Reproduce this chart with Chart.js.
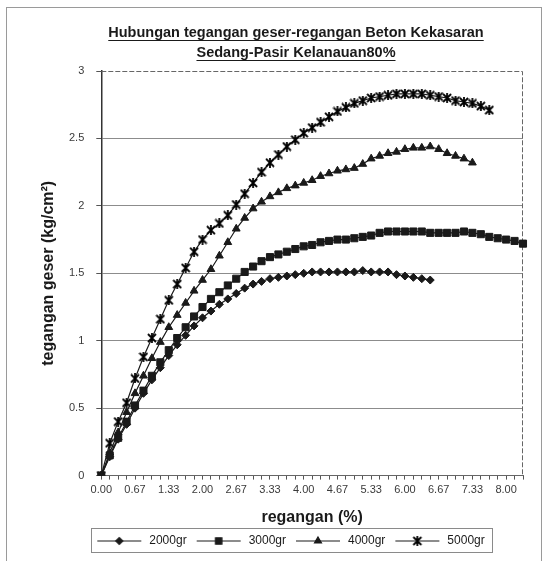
<!DOCTYPE html>
<html>
<head>
<meta charset="utf-8">
<title>Hubungan tegangan geser-regangan</title>
<script src="https://cdn.jsdelivr.net/npm/chart.js@4.4.1/dist/chart.umd.min.js"></script>
<style>
    html, body { margin: 0; padding: 0; background: #ffffff; }
    canvas { display: block; }
</style>
</head>
<body>
<canvas id="shear-chart" width="546" height="561"></canvas>
<script>
/**
 * Chart data: strain categories (%) and shear stress per load (kg/cm2)
 */
const strain = [
    '0.00', '0.17', '0.33', '0.50', '0.67', '0.83', '1.00', '1.17', '1.33', '1.50',
    '1.67', '1.83', '2.00', '2.17', '2.33', '2.50', '2.67', '2.83', '3.00', '3.17',
    '3.33', '3.50', '3.67', '3.83', '4.00', '4.17', '4.33', '4.50', '4.67', '4.83',
    '5.00', '5.17', '5.33', '5.50', '5.67', '5.83', '6.00', '6.17', '6.33', '6.50',
    '6.67', '6.83', '7.00', '7.17', '7.33', '7.50', '7.67', '7.83', '8.00', '8.17',
    '8.33'
];

const series_names = ['2000gr', '3000gr', '4000gr', '5000gr'];

const stress_2000 = [
    0, 0.14, 0.27, 0.38, 0.50, 0.61, 0.71, 0.80, 0.89, 0.97,
    1.04, 1.11, 1.17, 1.22, 1.27, 1.31, 1.35, 1.39, 1.42, 1.44,
    1.46, 1.47, 1.48, 1.49, 1.50, 1.51, 1.51, 1.51, 1.51, 1.51,
    1.51, 1.52, 1.51, 1.51, 1.51, 1.49, 1.48, 1.47, 1.46, 1.45
];

const stress_3000 = [
    0, 0.15, 0.28, 0.40, 0.52, 0.63, 0.74, 0.84, 0.93, 1.02,
    1.10, 1.18, 1.25, 1.31, 1.36, 1.41, 1.46, 1.51, 1.55, 1.59,
    1.62, 1.64, 1.66, 1.68, 1.70, 1.71, 1.73, 1.74, 1.75, 1.75,
    1.76, 1.77, 1.78, 1.80, 1.81, 1.81, 1.81, 1.81, 1.81, 1.80,
    1.80, 1.80, 1.80, 1.81, 1.80, 1.79, 1.77, 1.76, 1.75, 1.74,
    1.72
];

const stress_4000 = [
    0, 0.17, 0.32, 0.47, 0.61, 0.74, 0.87, 0.99, 1.10, 1.19,
    1.28, 1.37, 1.45, 1.53, 1.63, 1.73, 1.83, 1.91, 1.98, 2.03,
    2.07, 2.10, 2.13, 2.15, 2.17, 2.19, 2.22, 2.24, 2.26, 2.27,
    2.28, 2.31, 2.35, 2.37, 2.39, 2.40, 2.42, 2.43, 2.43, 2.44,
    2.42, 2.39, 2.37, 2.35, 2.32
];

const stress_5000 = [
    0, 0.24, 0.40, 0.54, 0.72, 0.88, 1.02, 1.16, 1.30, 1.42,
    1.54, 1.66, 1.75, 1.82, 1.87, 1.93, 2.01, 2.09, 2.17, 2.25,
    2.32, 2.38, 2.44, 2.49, 2.54, 2.58, 2.62, 2.66, 2.70, 2.73,
    2.76, 2.78, 2.80, 2.81, 2.82, 2.83, 2.83, 2.83, 2.83, 2.82,
    2.81, 2.80, 2.78, 2.77, 2.76, 2.74, 2.71
];

const title_lines = ['Hubungan tegangan geser-regangan Beton Kekasaran', 'Sedang-Pasir Kelanauan80%'];
const x_title = 'regangan (%)';
const y_title = 'tegangan geser (kg/cm\u00b2)';

const ink = '#1a1a1a';
const font_family = "'Liberation Sans', Arial, sans-serif";

/**
 * Excel style "star" marker: a cross with a vertical bar
 *
 * @param {number} size
 */
function make_star_marker(size) {
    let c = document.createElement('canvas');
    c.width = size;
    c.height = size;

    let g = c.getContext('2d');
    g.strokeStyle = '#000000';
    g.lineWidth = 1.8;
    g.beginPath();
    g.moveTo(1, 1); g.lineTo(size - 1, size - 1);
    g.moveTo(size - 1, 1); g.lineTo(1, size - 1);
    g.moveTo(size / 2, 0); g.lineTo(size / 2, size);
    g.stroke();

    return c;
}

/**
 * Legend icon: a short line with the series marker in the middle
 *
 * @param {string|HTMLCanvasElement} style
 * @param {number} radius
 */
function make_legend_icon(style, radius) {
    let c = document.createElement('canvas');
    c.width = 48;
    c.height = 12;

    let g = c.getContext('2d');
    g.strokeStyle = ink;
    g.fillStyle = ink;
    g.lineWidth = 1.2;
    g.beginPath();
    g.moveTo(2, 6);
    g.lineTo(46, 6);
    g.stroke();

    if (typeof style === 'string') {
        Chart.helpers.drawPoint(g, { pointStyle: style, radius: radius, rotation: 0, borderWidth: 1 }, 24, 6);
    } else {
        g.drawImage(style, 24 - style.width / 2, 6 - style.height / 2);
    }

    return c;
}

const star_marker = make_star_marker(10);
const marker_styles = ['rectRot', 'rect', 'triangle', star_marker];
const marker_radius = [4, 5, 4.5, 4.5];
const legend_icons = marker_styles.map((s, i) => make_legend_icon(s, marker_radius[i] - 0.5));

/**
 * Frame, dashed plot border, underlined title and legend box
 */
const decorations = {
    id: 'decorations',
    afterLayout(chart) {
        chart.titleBlock.left += 14;
        chart.titleBlock.right += 14;
        chart.legend.left += 8;
        chart.legend.right += 8;
    },
    beforeDraw(chart) {
        let ctx = chart.ctx;
        ctx.save();
        ctx.fillStyle = '#ffffff';
        ctx.fillRect(0, 0, chart.width, chart.height);
        ctx.strokeStyle = '#9a9a9a';
        ctx.lineWidth = 1;
        ctx.strokeRect(6.5, 7.5, 535, 600);
        ctx.restore();
    },
    beforeDatasetsDraw(chart) {
        let ctx = chart.ctx;
        let area = chart.chartArea;
        ctx.save();
        ctx.strokeStyle = '#666666';
        ctx.lineWidth = 1;
        ctx.setLineDash([5, 2]);
        ctx.beginPath();
        ctx.moveTo(area.left, area.top + 0.5);
        ctx.lineTo(area.right - 0.5, area.top + 0.5);
        ctx.lineTo(area.right - 0.5, area.bottom);
        ctx.stroke();
        ctx.restore();
    },
    afterDraw(chart) {
        let ctx = chart.ctx;
        let title = chart.titleBlock;
        let center = (title.left + title.right) / 2;

        ctx.save();
        ctx.font = 'bold 14.5px ' + font_family;
        ctx.strokeStyle = ink;
        ctx.lineWidth = 1;
        title_lines.forEach((line, i) => {
            let w = ctx.measureText(line).width;
            let y = Math.round(title.top + 23 + 10 + i * 20 + 7) + 0.5;
            ctx.beginPath();
            ctx.moveTo(center - w / 2, y);
            ctx.lineTo(center + w / 2, y);
            ctx.stroke();
        });

        let boxes = chart.legend.legendHitBoxes;
        if (boxes && boxes.length) {
            let first = boxes[0];
            let last = boxes[boxes.length - 1];
            ctx.strokeStyle = '#8a8a8a';
            ctx.strokeRect(Math.round(first.left - 4) + 0.5, Math.round(first.top - 7) + 0.5,
                Math.round(last.left + last.width + 12 - first.left), 24);
        }
        ctx.restore();
    }
};

const stress_series = [stress_2000, stress_3000, stress_4000, stress_5000];

new Chart(document.getElementById('shear-chart').getContext('2d'), {
    type: 'line',
    data: {
        labels: strain,
        datasets: stress_series.map((values, i) => ({
            label: series_names[i],
            data: values,
            borderColor: ink,
            backgroundColor: ink,
            borderWidth: 1.2,
            pointStyle: marker_styles[i],
            pointRadius: marker_radius[i],
            pointBorderWidth: 1,
            pointBorderColor: ink,
            pointBackgroundColor: ink,
            tension: 0,
            fill: false
        }))
    },
    plugins: [decorations],
    options: {
        responsive: false,
        animation: false,
        devicePixelRatio: 1,
        layout: { padding: { left: 41, right: 23, top: 0, bottom: 4 } },
        plugins: {
            tooltip: { enabled: false },
            title: {
                display: true,
                text: title_lines,
                color: ink,
                font: { family: font_family, size: 14.5, weight: 'bold', lineHeight: '20px' },
                padding: { top: 23, bottom: 8 }
            },
            legend: {
                display: true,
                position: 'bottom',
                labels: {
                    usePointStyle: true,
                    pointStyleWidth: 48,
                    padding: 8,
                    color: ink,
                    font: { family: font_family, size: 12 },
                    generateLabels(chart) {
                        let items = Chart.defaults.plugins.legend.labels.generateLabels(chart);
                        items.forEach((item, i) => { item.pointStyle = legend_icons[i]; });
                        return items;
                    }
                }
            }
        },
        scales: {
            x: {
                type: 'category',
                offset: false,
                grid: {
                    display: true,
                    drawOnChartArea: false,
                    drawTicks: true,
                    tickLength: 4,
                    tickColor: '#555555'
                },
                border: { display: true, color: '#666666', width: 1, dash: [4, 2] },
                ticks: {
                    autoSkip: false,
                    maxRotation: 0,
                    minRotation: 0,
                    padding: 4,
                    color: '#3a3a3a',
                    font: { family: font_family, size: 11 },
                    callback: (value, index) => (index % 4 === 0 ? strain[index] : '')
                },
                title: {
                    display: true,
                    text: x_title,
                    color: ink,
                    font: { family: font_family, size: 16, weight: 'bold' },
                    padding: { top: 7, bottom: 0 }
                }
            },
            y: {
                min: 0,
                max: 3,
                grid: {
                    color: (ctx) => (ctx.tick && (ctx.tick.value === 0 || ctx.tick.value === 3)) ? 'rgba(0,0,0,0)' : '#8c8c8c',
                    lineWidth: 1,
                    drawTicks: true,
                    tickLength: 5,
                    tickColor: '#555555'
                },
                border: { display: true, color: '#333333', width: 1.5 },
                ticks: {
                    stepSize: 0.5,
                    padding: 12,
                    color: '#3a3a3a',
                    font: { family: font_family, size: 11 },
                    callback: (value) => String(value)
                },
                title: {
                    display: true,
                    text: y_title,
                    color: ink,
                    font: { family: font_family, size: 16, weight: 'bold', lineHeight: '16px' },
                    padding: { top: 0, bottom: 0 }
                }
            }
        }
    }
});
</script>
</body>
</html>
